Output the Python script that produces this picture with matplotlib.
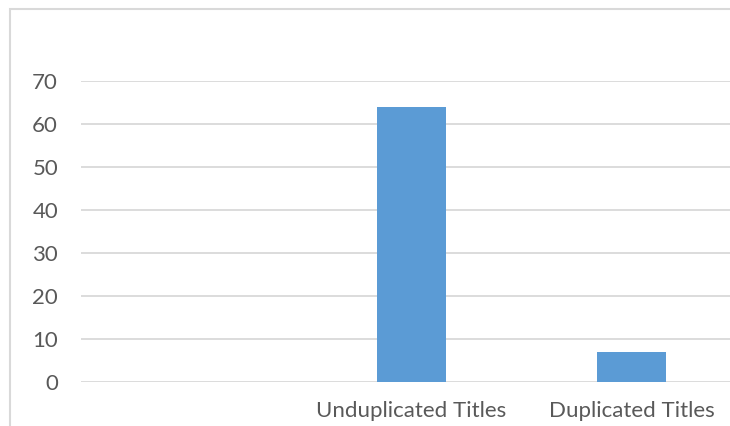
import matplotlib.pyplot as plt
from matplotlib.patches import Rectangle

categories = ["", "Unduplicated Titles", "Duplicated Titles"]
values = [0, 64, 7]
y_ticks = [0, 10, 20, 30, 40, 50, 60, 70]

W, H = 730, 426
fig = plt.figure(figsize=(W / 100, H / 100), dpi=100)
fig.patch.set_facecolor("white")

# chart area border (cropped on the right and bottom)
fig.patches.append(Rectangle((9.5 / W, -0.1), 1.2, 1.1 - 9.5 / H,
                             transform=fig.transFigure, fill=False,
                             edgecolor="#d9d9d9", linewidth=1.5))

# plot area runs past the right edge, like the original crop
ax = fig.add_axes([81 / W, 44 / H, 661 / W, 301 / H])
ax.set_facecolor("none")

x = range(len(categories))
ax.bar(x, values, width=0.313, color="#5b9bd5", zorder=3)

ax.set_xlim(-0.5, 2.5)
ax.set_ylim(0, 70)
ax.set_yticks(y_ticks)
ax.set_xticks(list(x))
ax.set_xticklabels(categories)
ax.yaxis.grid(True, color="#d9d9d9", linewidth=1.3, zorder=0)
ax.set_axisbelow(True)

for s in ax.spines.values():
    s.set_visible(False)
ax.tick_params(axis="both", length=0, labelsize=16, labelcolor="#595959")
ax.tick_params(axis="y", pad=16.5)
ax.tick_params(axis="x", pad=14)
for lbl in ax.get_xticklabels() + ax.get_yticklabels():
    lbl.set_family(["Lato", "DejaVu Sans"])

fig.savefig("out.png", dpi=100)
